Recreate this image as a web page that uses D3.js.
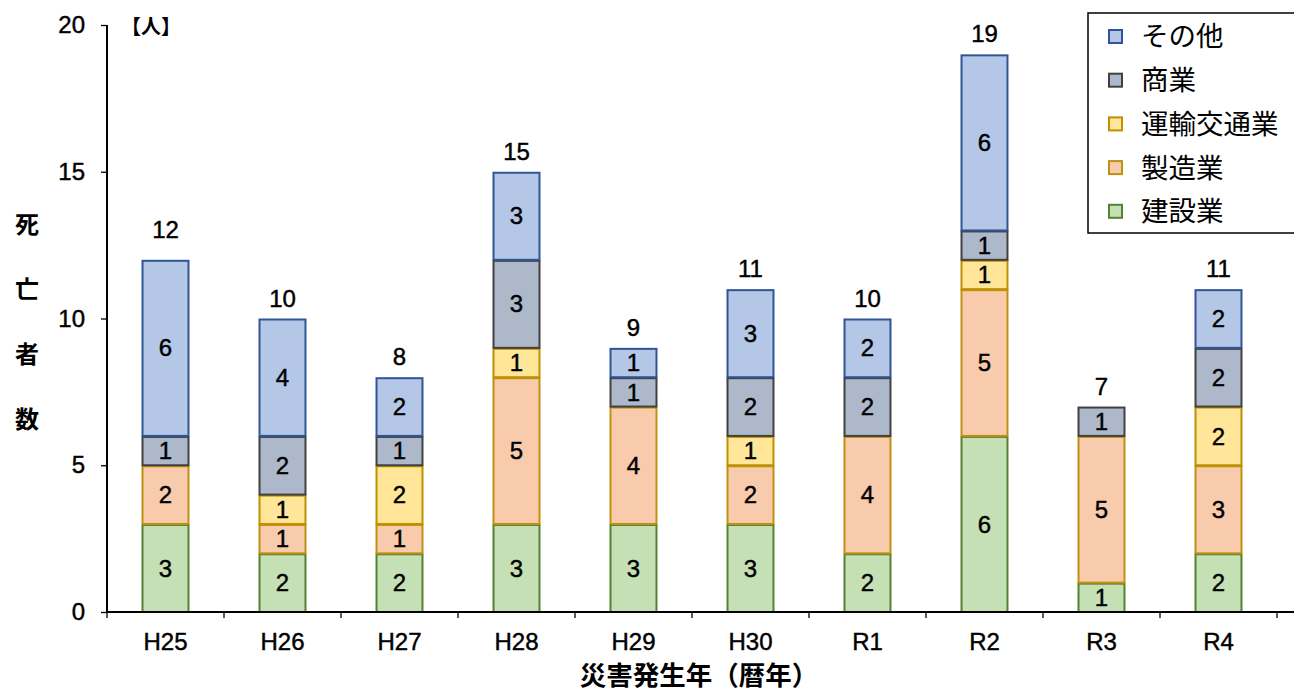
<!DOCTYPE html>
<html><head><meta charset="utf-8">
<script src="https://cdn.jsdelivr.net/npm/d3@7"></script>
<style>body{margin:0;background:#fff;} svg{display:block;}</style>
</head><body>
<svg id="c" width="1294" height="695"></svg>
<script>
const categories = ["H25","H26","H27","H28","H29","H30","R1","R2","R3","R4"];
const construction = [3,2,2,3,3,3,2,6,1,2];   // 建設業
const manufacturing = [2,1,1,5,4,2,4,5,5,3];  // 製造業
const transport = [0,1,2,1,0,1,0,1,0,2];      // 運輸交通業
const commerce = [1,2,1,3,1,2,2,1,1,2];       // 商業
const others = [6,4,2,3,1,3,2,6,0,2];         // その他
const seriesNames = ["建設業","製造業","運輸交通業","商業","その他"];
const yTicks = [0,5,10,15,20];

const seriesData = [construction, manufacturing, transport, commerce, others];
const fills = ["#c5e0b4","#f8cbad","#ffe699","#adb9ca","#b4c7e7"];
const strokes = ["#548235","#c09010","#bf9000","#404040","#2f5597"];

const svg = d3.select("#c");
const font = "'Liberation Sans Narrow','Liberation Sans',Arial,sans-serif";
const cjk = "'Noto Sans CJK JP',sans-serif";
const mLeft = 107, mRight = 1277, mTop = 25, mBottom = 612;
const numSize = 24;

function heavy(sel){ return sel.attr("stroke","#000").attr("stroke-width",0.45).attr("paint-order","stroke"); }

const x = d3.scaleBand().domain(categories).range([mLeft, mRight]).paddingInner(0.59).paddingOuter(0.295);
const y = d3.scaleLinear().domain([0,20]).range([mBottom, mTop]);

const table = categories.map((c,i)=>{ const o={cat:c}; seriesNames.forEach((s,j)=>o[s]=seriesData[j][i]); return o; });
const stacked = d3.stack().keys(seriesNames)(table);

stacked.forEach((layer,j)=>{
  const g = svg.append("g");
  layer.forEach((d,i)=>{
    const v = d[1]-d[0];
    if (v<=0) return;
    g.append("rect").attr("x", x(categories[i])+1).attr("y", y(d[1])+1)
      .attr("width", x.bandwidth()-2).attr("height", Math.max(1, y(d[0])-y(d[1])-1))
      .attr("fill", fills[j]).attr("stroke", strokes[j]).attr("stroke-width", 2);
    heavy(g.append("text").attr("x", x(categories[i])+x.bandwidth()/2).attr("y", (y(d[0])+y(d[1]))/2)
      .attr("dy","0.36em").attr("text-anchor","middle").attr("font-family",font).attr("font-size",numSize)
      .attr("fill","#000").text(v));
  });
});

// totals
categories.forEach((c,i)=>{
  const t = seriesData.reduce((s,a)=>s+a[i],0);
  heavy(svg.append("text").attr("x", x(c)+x.bandwidth()/2).attr("y", y(t)-(i===0?22:12))
    .attr("text-anchor","middle").attr("font-family",font).attr("font-size",numSize).attr("fill","#000").text(t));
});

// y axis
const ya = svg.append("g").attr("transform",`translate(${mLeft},0)`)
  .call(d3.axisLeft(y).tickValues(yTicks).tickSize(6).tickPadding(16));
ya.select(".domain").attr("stroke","#000").attr("stroke-width",2).attr("d",`M0,${mTop}V${mBottom}`);
heavy(ya.selectAll("text").attr("font-family",font).attr("font-size",numSize).attr("fill","#000"));
ya.selectAll("line").attr("stroke","#000").attr("stroke-width",1.3);

// x axis
const xa = svg.append("g").attr("transform",`translate(0,${mBottom})`)
  .call(d3.axisBottom(x).tickSize(0).tickPadding(21));
xa.select(".domain").attr("stroke","#000").attr("stroke-width",2).attr("d",`M${mLeft},0H1294`);
heavy(xa.selectAll("text").attr("font-family",font).attr("font-size",numSize).attr("fill","#000"));
const step = x.step();
d3.range(0, categories.length+1).forEach(k=>{
  xa.append("line").attr("x1", mLeft+k*step).attr("x2", mLeft+k*step).attr("y1",0).attr("y2",6)
    .attr("stroke","#000").attr("stroke-width",1.3);
});

// unit label
svg.append("text").attr("x",121).attr("y",34).attr("font-family",cjk).attr("font-weight","bold")
  .attr("font-size",20).text("【人】");

// y title vertical
["死","亡","者","数"].forEach((ch,i)=>{
  svg.append("text").attr("x",27).attr("y",224+i*65).attr("dy","0.36em").attr("text-anchor","middle")
    .attr("font-family",cjk).attr("font-weight","bold").attr("font-size",24).text(ch);
});

// x title
svg.append("text").attr("x",699).attr("y",685).attr("text-anchor","middle")
  .attr("font-family",cjk).attr("font-weight","bold").attr("font-size",26.5).text("災害発生年（暦年）");

// legend
const lg = svg.append("g");
lg.append("rect").attr("x",1088).attr("y",13).attr("width",210).attr("height",220)
  .attr("fill","#fff").attr("stroke","#000").attr("stroke-width",1.5);
const legendOrder = [4,3,2,1,0];
legendOrder.forEach((j,k)=>{
  const cy = 36.5 + k*43.7;
  lg.append("rect").attr("x",1109).attr("y",cy-6.5).attr("width",13).attr("height",13)
    .attr("fill",fills[j]).attr("stroke",strokes[j]).attr("stroke-width",2);
  lg.append("text").attr("x",1141).attr("y",cy).attr("dy","0.36em").attr("font-family",cjk)
    .attr("font-size",27.5).attr("fill","#000").text(seriesNames[j]);
});
</script>
</body></html>
